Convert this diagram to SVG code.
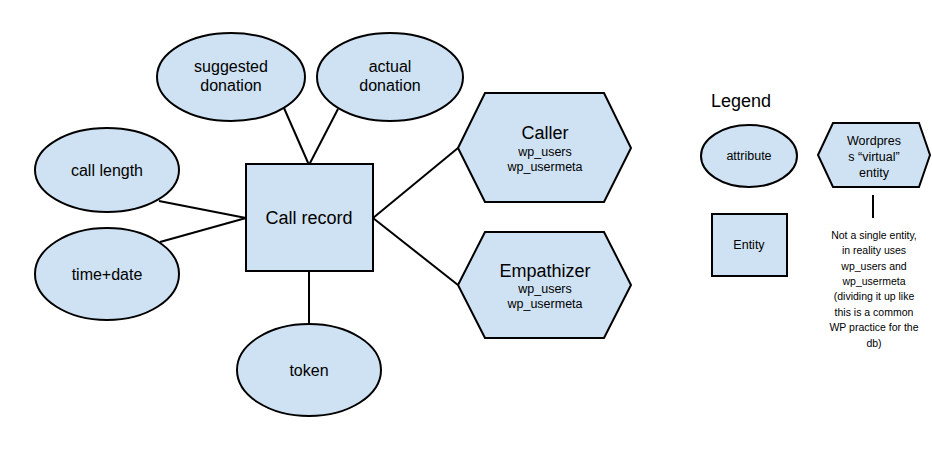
<svg xmlns="http://www.w3.org/2000/svg" width="932" height="453" viewBox="0 0 932 453">
<style>
.s{fill:#cfe2f3;stroke:#000;stroke-width:2}
.c{stroke:#000;stroke-width:2;fill:none}
text{font-family:"Liberation Sans",Arial,sans-serif;fill:#000;text-anchor:middle;dominant-baseline:central}
.m{font-size:16px}
.b{font-size:18px}
.t{font-size:12.5px}
.n{font-size:10.5px}
</style>
<rect width="932" height="453" fill="#fff"/>
<g id="connectors">
<line class="c" x1="284" y1="108" x2="309" y2="165"/>
<line class="c" x1="338" y1="109" x2="309" y2="165"/>
<line class="c" x1="159" y1="201" x2="246" y2="218"/>
<line class="c" x1="160" y1="242" x2="246" y2="218"/>
<line class="c" x1="309" y1="271" x2="309" y2="324"/>
<line class="c" x1="373" y1="218" x2="458" y2="148"/>
<line class="c" x1="373" y1="218" x2="458" y2="285"/>
<line class="c" x1="873" y1="195" x2="873" y2="218"/>
</g>
<g id="suggested-donation"><ellipse class="s" cx="231" cy="77" rx="74" ry="44"/><text class="m" x="231" y="66">suggested</text><text class="m" x="231" y="85">donation</text></g>
<g id="actual-donation"><ellipse class="s" cx="390" cy="77" rx="73" ry="44"/><text class="m" x="390" y="66">actual</text><text class="m" x="390" y="85">donation</text></g>
<g id="call-length"><ellipse class="s" cx="107" cy="170" rx="72" ry="42"/><text class="m" x="107" y="170">call length</text></g>
<g id="time-date"><ellipse class="s" cx="107" cy="274" rx="72" ry="46"/><text class="m" x="107" y="274">time+date</text></g>
<g id="call-record"><rect class="s" x="246" y="164" width="127" height="107"/><text class="b" x="309" y="218">Call record</text></g>
<g id="token"><ellipse class="s" cx="309" cy="370" rx="72" ry="46"/><text class="m" x="309" y="370">token</text></g>
<g id="caller"><polygon class="s" points="458,148 485,93 604,93 631,148 604,202 485,202"/><text class="b" x="545" y="133">Caller</text><text class="t" x="545" y="152">wp_users</text><text class="t" x="545" y="167">wp_usermeta</text></g>
<g id="empathizer"><polygon class="s" points="458,285 485,232 604,232 631,285 604,338 485,338"/><text class="b" x="545" y="271">Empathizer</text><text class="t" x="545" y="289">wp_users</text><text class="t" x="545" y="304">wp_usermeta</text></g>
<g id="legend">
<text class="b" x="741" y="101">Legend</text>
<g id="legend-attribute"><ellipse class="s" cx="749" cy="156" rx="48" ry="31"/><text class="t" x="749" y="156">attribute</text></g>
<g id="legend-virtual"><polygon class="s" points="818,155 833,123 919,123 930,155 919,187 833,187"/><text class="t" x="874" y="141">Wordpres</text><text class="t" x="874" y="157">s “virtual”</text><text class="t" x="874" y="173">entity</text></g>
<g id="legend-entity"><rect class="s" x="712" y="214" width="75" height="62"/><text class="t" x="749" y="245">Entity</text></g>
<g id="legend-note">
<text class="n" x="874" y="235">Not a single entity,</text>
<text class="n" x="874" y="250">in reality uses</text>
<text class="n" x="874" y="266">wp_users and</text>
<text class="n" x="874" y="281">wp_usermeta</text>
<text class="n" x="874" y="296">(dividing it up like</text>
<text class="n" x="874" y="312">this is a common</text>
<text class="n" x="874" y="327">WP practice for the</text>
<text class="n" x="874" y="343">db)</text>
</g>
</g>
</svg>
